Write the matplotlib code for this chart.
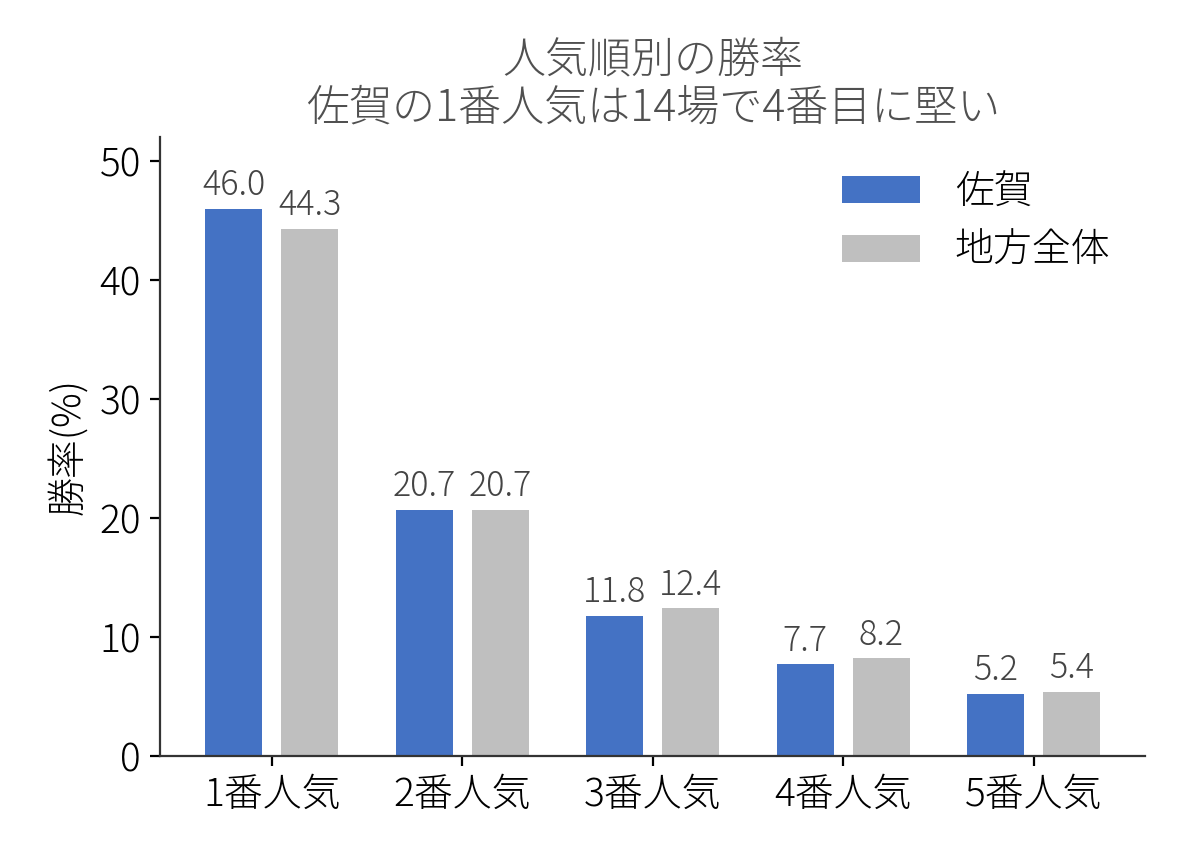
import matplotlib
matplotlib.use('Agg')
import matplotlib.pyplot as plt
import numpy as np

plt.rcParams['font.family'] = ['Noto Sans CJK JP', 'DejaVu Sans']
plt.rcParams['font.weight'] = 'light'
plt.rcParams['axes.titleweight'] = 'light'
plt.rcParams['axes.labelweight'] = 'light'

# data
categories = ['1番人気', '2番人気', '3番人気', '4番人気', '5番人気']
saga = [46.0, 20.7, 11.8, 7.7, 5.2]
chiho = [44.3, 20.7, 12.4, 8.2, 5.4]
series_names = ['佐賀', '地方全体']

fig, ax = plt.subplots(figsize=(5.94, 4.29), dpi=200)
fig.subplots_adjust(left=0.135, right=0.964, bottom=0.119, top=0.840)

x = np.arange(len(categories))
w = 0.3
b1 = ax.bar(x - 0.2, saga, w, color='#4472C4', label=series_names[0])
b2 = ax.bar(x + 0.2, chiho, w, color='#BFBFBF', label=series_names[1])

for bars in (b1, b2):
    ax.bar_label(bars, fmt='%.1f', padding=2, fontsize=12.3, color='#444444')

ax.set_xticks(x)
ax.set_xticklabels(categories, fontsize=14)
ax.set_ylim(0, 52)
ax.set_yticks([0, 10, 20, 30, 40, 50])
ax.tick_params(axis='y', labelsize=14)
ax.set_ylabel('勝率(%)', fontsize=14)
ax.set_title('人気順別の勝率\n佐賀の1番人気は14場で4番目に堅い',
             fontsize=15.5, color='#505050', linespacing=1.1)

ax.spines['top'].set_visible(False)
ax.spines['right'].set_visible(False)
for s in ('left', 'bottom'):
    ax.spines[s].set_color('#333333')

ax.legend(frameon=False, fontsize=14, loc='upper right', handlelength=2.0,
          handletextpad=0.9)

fig.savefig('out.png', dpi=200)
